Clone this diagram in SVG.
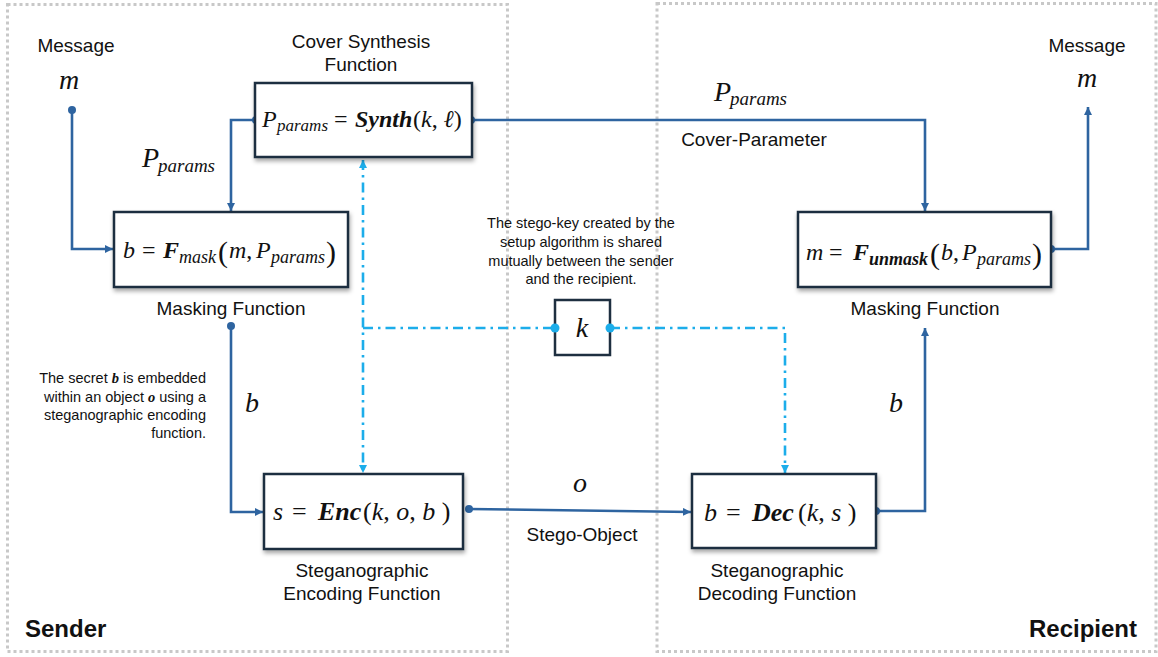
<svg xmlns="http://www.w3.org/2000/svg" width="1158" height="657" viewBox="0 0 1158 657">
<defs>
<style>
.frame{fill:none;stroke:#c8c8c8;stroke-width:3;stroke-dasharray:3 3}
.box{fill:#fff;stroke:#1e2f40;stroke-width:2.5;filter:url(#sh)}
.ln{fill:none;stroke:#2e64a0;stroke-width:2.6}
.kl{fill:none;stroke:#1cadea;stroke-width:2.6;stroke-dasharray:10 5 2.5 5}
.dot{fill:#2e64a0}
.kdot{fill:#1cadea}
.lbl{font-family:"Liberation Sans",Arial,sans-serif;font-size:19px;fill:#111}
.note{font-family:"Liberation Sans",Arial,sans-serif;font-size:14.5px;fill:#111}
.big{font-family:"Liberation Sans",Arial,sans-serif;font-size:24px;font-weight:bold;fill:#111}
.m{font-family:"Liberation Serif","Times New Roman",serif;font-style:italic;fill:#111}
.n{font-style:normal}
.bi{font-weight:bold}
</style>
<filter id="sh" x="-10%" y="-10%" width="125%" height="135%">
<feDropShadow dx="1" dy="3" stdDeviation="2" flood-color="#000" flood-opacity="0.35"/>
</filter>
<marker id="ah" markerUnits="userSpaceOnUse" markerWidth="9" markerHeight="8" refX="8" refY="4" orient="auto-start-reverse">
<path d="M0,0 L8,4 L0,8 z" fill="#2e64a0"/>
</marker>
<marker id="ak" markerUnits="userSpaceOnUse" markerWidth="9" markerHeight="8" refX="8" refY="4" orient="auto-start-reverse">
<path d="M0,0 L8,4 L0,8 z" fill="#1cadea"/>
</marker>
</defs>
<rect width="1158" height="657" fill="#fff"/>

<g id="frames">
<rect class="frame" x="7.5" y="4.5" width="500" height="647"/>
<rect class="frame" x="657" y="3.5" width="499" height="648"/>
<text class="big" x="25" y="637">Sender</text>
<text class="big" x="1137" y="637" text-anchor="end">Recipient</text>
</g>

<g id="connectors">
<path class="ln" d="M72,110 V249 H113" marker-end="url(#ah)"/>
<circle class="dot" cx="72" cy="110" r="4"/>
<path class="ln" d="M256,120 H231 V211" marker-end="url(#ah)"/>
<circle class="dot" cx="256" cy="120" r="4"/>
<path class="ln" d="M471,120 H925 V211" marker-end="url(#ah)"/>
<circle class="dot" cx="471" cy="120" r="4"/>
<path class="ln" d="M231,326 V512 H263" marker-end="url(#ah)"/>
<circle class="dot" cx="231" cy="326" r="4"/>
<path class="ln" d="M469,509 L691,512" marker-end="url(#ah)"/>
<circle class="dot" cx="469" cy="509" r="4"/>
<path class="ln" d="M876,511 H925 V328" marker-end="url(#ah)"/>
<circle class="dot" cx="876" cy="511" r="4"/>
<path class="ln" d="M1051,249 H1088 V107" marker-end="url(#ah)"/>
<circle class="dot" cx="1051" cy="249" r="4"/>
<path class="kl" d="M363,160 V473" marker-start="url(#ak)" marker-end="url(#ak)"/>
<path class="kl" d="M363,328 H555"/>
<path class="kl" d="M610,328 H785 V473" marker-end="url(#ak)"/>
</g>

<g id="labels">
<text class="lbl" x="76" y="52" text-anchor="middle">Message</text>
<text class="m" x="69" y="89" font-size="28" text-anchor="middle">m</text>
<text class="m" font-size="28"><tspan x="142" y="167">P</tspan><tspan x="158" y="172" font-size="19">params</tspan></text>
<text class="m" x="252" y="412" font-size="28" text-anchor="middle">b</text>
<text class="note" text-anchor="end"><tspan x="206" y="383">The secret <tspan class="m bi">b</tspan> is embedded</tspan><tspan x="206" y="402">within an object <tspan class="m bi">o</tspan> using a</tspan><tspan x="206" y="420">steganographic encoding</tspan><tspan x="206" y="438">function.</tspan></text>
<text class="m" font-size="28"><tspan x="714" y="101">P</tspan><tspan x="730" y="105" font-size="19">params</tspan></text>
<text class="lbl" x="754" y="146" text-anchor="middle">Cover-Parameter</text>
<text class="note" text-anchor="middle"><tspan x="581" y="228">The stego-key created by the</tspan><tspan x="581" y="247">setup algorithm is shared</tspan><tspan x="581" y="266">mutually between the sender</tspan><tspan x="581" y="284">and the recipient.</tspan></text>
<text class="m" x="580" y="492" font-size="28" text-anchor="middle">o</text>
<text class="lbl" x="582" y="541" text-anchor="middle">Stego-Object</text>
<text class="lbl" x="1087" y="52" text-anchor="middle">Message</text>
<text class="m" x="1087" y="87" font-size="28" text-anchor="middle">m</text>
<text class="m" x="896" y="412" font-size="28" text-anchor="middle">b</text>
</g>

<g id="synth">
<rect class="box" x="255" y="83" width="217" height="74"/>
<text class="m" font-size="24"><tspan x="262" y="127">P</tspan><tspan x="277" y="131" font-size="17">params</tspan><tspan class="n" x="334" y="127">=</tspan><tspan class="bi" x="355" y="127">Synth</tspan><tspan class="n" x="413" y="127">(</tspan><tspan>k</tspan><tspan class="n">, </tspan><tspan>ℓ</tspan><tspan class="n">)</tspan></text>
<text class="lbl" text-anchor="middle"><tspan x="361" y="48">Cover Synthesis</tspan><tspan x="361" y="71">Function</tspan></text>
</g>

<g id="mask">
<rect class="box" x="114" y="212" width="234" height="75"/>
<text class="m" font-size="24"><tspan x="123" y="258">b</tspan><tspan class="n" x="142" y="258">=</tspan><tspan class="bi" x="163" y="258">F</tspan><tspan x="179" y="263" font-size="18">mask</tspan><tspan class="n" x="218" y="262" font-size="30">(</tspan><tspan x="229" y="258">m</tspan><tspan class="n">,</tspan><tspan x="256" y="258">P</tspan><tspan x="271" y="263" font-size="18">params</tspan><tspan class="n" x="326" y="262" font-size="30">)</tspan></text>
<text class="lbl" x="231" y="315" text-anchor="middle">Masking Function</text>
</g>

<g id="enc">
<rect class="box" x="264" y="474" width="199" height="75"/>
<text class="m" font-size="26"><tspan x="273" y="520">s</tspan><tspan class="n" x="292" y="520">=</tspan><tspan class="bi" x="318" y="520">Enc</tspan><tspan class="n" x="363" y="520">(</tspan><tspan>k</tspan><tspan class="n">, </tspan><tspan>o</tspan><tspan class="n">, </tspan><tspan>b</tspan><tspan class="n"> )</tspan></text>
<text class="lbl" text-anchor="middle"><tspan x="362" y="577">Steganographic</tspan><tspan x="362" y="600">Encoding Function</tspan></text>
</g>

<g id="key">
<rect x="555" y="300" width="55" height="55" fill="#fff" stroke="#1e2f40" stroke-width="2.5"/>
<text class="m" x="582" y="337" font-size="28" text-anchor="middle">k</text>
<circle class="kdot" cx="555" cy="328" r="4.5"/>
<circle class="kdot" cx="610" cy="328" r="4.5"/>
</g>

<g id="dec">
<rect class="box" x="692" y="474" width="184" height="74"/>
<text class="m" font-size="26"><tspan x="704" y="521">b</tspan><tspan class="n" x="726" y="521">=</tspan><tspan class="bi" x="752" y="521">Dec</tspan><tspan class="n" x="798" y="521">(</tspan><tspan>k</tspan><tspan class="n">, </tspan><tspan>s</tspan><tspan class="n"> )</tspan></text>
<text class="lbl" text-anchor="middle"><tspan x="777" y="577">Steganographic</tspan><tspan x="777" y="600">Decoding Function</tspan></text>
</g>

<g id="unmask">
<rect class="box" x="798" y="212" width="253" height="75"/>
<text class="m" font-size="24"><tspan x="806" y="260">m</tspan><tspan class="n" x="829" y="260">=</tspan><tspan class="bi" x="853" y="260">F</tspan><tspan class="bi" x="869" y="265" font-size="18">unmask</tspan><tspan class="n" x="930" y="264" font-size="30">(</tspan><tspan x="941" y="260">b</tspan><tspan class="n">,</tspan><tspan x="962" y="260">P</tspan><tspan x="977" y="265" font-size="18">params</tspan><tspan class="n" x="1032" y="264" font-size="30">)</tspan></text>
<text class="lbl" x="925" y="315" text-anchor="middle">Masking Function</text>
</g>
</svg>
